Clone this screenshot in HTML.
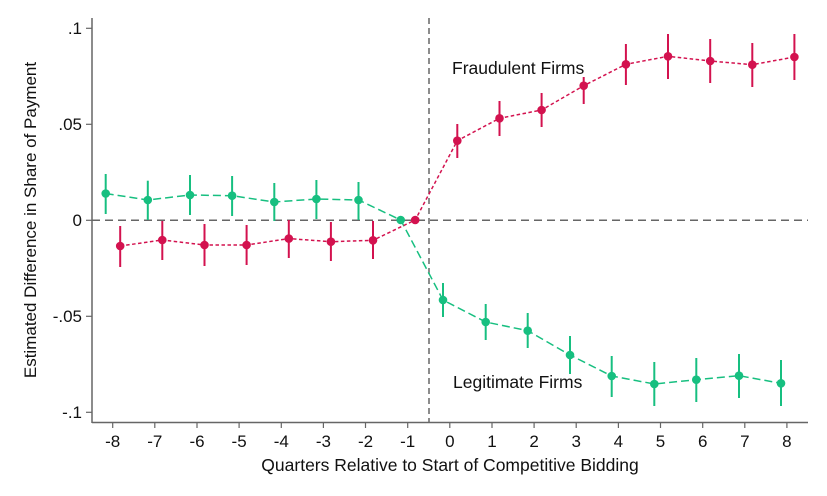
<!DOCTYPE html>
<html><head><meta charset="utf-8"><style>body{margin:0;background:#fff}svg{display:block}text{font-family:"Liberation Sans",sans-serif;fill:#111}</style></head><body>
<svg width="827" height="496" viewBox="0 0 827 496">
<rect width="827" height="496" fill="#fff"/>
<g stroke="#666" stroke-width="1.5">
<line x1="92" y1="18" x2="92" y2="423"/>
<line x1="92" y1="422.5" x2="808" y2="422.5"/>
</g>
<g stroke="#666" stroke-width="1.2">
<line x1="86" y1="28.3" x2="92" y2="28.3"/><line x1="86" y1="124.3" x2="92" y2="124.3"/><line x1="86" y1="220.3" x2="92" y2="220.3"/><line x1="86" y1="316.3" x2="92" y2="316.3"/><line x1="86" y1="412.3" x2="92" y2="412.3"/>
<line x1="112.7" y1="422" x2="112.7" y2="428"/><line x1="154.8" y1="422" x2="154.8" y2="428"/><line x1="197" y1="422" x2="197" y2="428"/><line x1="239.1" y1="422" x2="239.1" y2="428"/><line x1="281.3" y1="422" x2="281.3" y2="428"/><line x1="323.4" y1="422" x2="323.4" y2="428"/><line x1="365.5" y1="422" x2="365.5" y2="428"/><line x1="407.7" y1="422" x2="407.7" y2="428"/><line x1="449.8" y1="422" x2="449.8" y2="428"/><line x1="492" y1="422" x2="492" y2="428"/><line x1="534.1" y1="422" x2="534.1" y2="428"/><line x1="576.2" y1="422" x2="576.2" y2="428"/><line x1="618.4" y1="422" x2="618.4" y2="428"/><line x1="660.5" y1="422" x2="660.5" y2="428"/><line x1="702.7" y1="422" x2="702.7" y2="428"/><line x1="744.8" y1="422" x2="744.8" y2="428"/><line x1="786.9" y1="422" x2="786.9" y2="428"/>
</g>
<g font-size="17" text-anchor="end">
<text x="82" y="34">.1</text><text x="82" y="130">.05</text><text x="82" y="226">0</text><text x="82" y="322">-.05</text><text x="82" y="418">-.1</text>
</g>
<g font-size="17" text-anchor="middle">
<text x="112.7" y="447">-8</text><text x="154.8" y="447">-7</text><text x="197" y="447">-6</text><text x="239.1" y="447">-5</text><text x="281.3" y="447">-4</text><text x="323.4" y="447">-3</text><text x="365.5" y="447">-2</text><text x="407.7" y="447">-1</text><text x="449.8" y="447">0</text><text x="492" y="447">1</text><text x="534.1" y="447">2</text><text x="576.2" y="447">3</text><text x="618.4" y="447">4</text><text x="660.5" y="447">5</text><text x="702.7" y="447">6</text><text x="744.8" y="447">7</text><text x="786.9" y="447">8</text>
</g>
<text x="450" y="471" font-size="17.5" text-anchor="middle">Quarters Relative to Start of Competitive Bidding</text>
<text transform="translate(36,220) rotate(-90)" font-size="17" text-anchor="middle">Estimated Difference in Share of Payment</text>
<line x1="92" y1="220.3" x2="808" y2="220.3" stroke="#666" stroke-width="1.5" stroke-dasharray="8,5"/>
<line x1="429" y1="18" x2="429" y2="422" stroke="#666" stroke-width="1.5" stroke-dasharray="6,4"/>

<g stroke="#17bf80" stroke-width="2">
<path d="M105.7 193.5L147.8 200L190 195L232.1 195.7L274.3 202L316.4 199L358.5 200L400.7 220L443 300L485.7 322L527.7 330.7L570 355L611.7 376L654.3 384L696.3 379.7L739 375.7L781 383.3" fill="none" stroke-width="1.5" stroke-dasharray="8,4"/>
<line x1="105.7" y1="174" x2="105.7" y2="214"/><line x1="147.8" y1="180.7" x2="147.8" y2="220"/><line x1="190" y1="175" x2="190" y2="215"/><line x1="232.1" y1="176" x2="232.1" y2="216"/><line x1="274.3" y1="183" x2="274.3" y2="221"/><line x1="316.4" y1="180" x2="316.4" y2="219"/><line x1="358.5" y1="182" x2="358.5" y2="220"/>
<line x1="443" y1="283" x2="443" y2="317"/><line x1="485.7" y1="304" x2="485.7" y2="340"/><line x1="527.7" y1="313" x2="527.7" y2="348"/><line x1="570" y1="336" x2="570" y2="374"/><line x1="611.7" y1="356" x2="611.7" y2="397"/><line x1="654.3" y1="362" x2="654.3" y2="406"/><line x1="696.3" y1="358" x2="696.3" y2="402"/><line x1="739" y1="354" x2="739" y2="398"/><line x1="781" y1="360" x2="781" y2="406"/>
</g>
<g fill="#17bf80">
<circle cx="105.7" cy="193.5" r="4.3"/><circle cx="147.8" cy="200" r="4.3"/><circle cx="190" cy="195" r="4.3"/><circle cx="232.1" cy="195.7" r="4.3"/><circle cx="274.3" cy="202" r="4.3"/><circle cx="316.4" cy="199" r="4.3"/><circle cx="358.5" cy="200" r="4.3"/><circle cx="400.7" cy="220" r="4.3"/><circle cx="443" cy="300" r="4.3"/><circle cx="485.7" cy="322" r="4.3"/><circle cx="527.7" cy="330.7" r="4.3"/><circle cx="570" cy="355" r="4.3"/><circle cx="611.7" cy="376" r="4.3"/><circle cx="654.3" cy="384" r="4.3"/><circle cx="696.3" cy="379.7" r="4.3"/><circle cx="739" cy="375.7" r="4.3"/><circle cx="781" cy="383.3" r="4.3"/>
</g>

<g stroke="#d3124f" stroke-width="2">
<path d="M120.2 246L162.3 240L204.5 245L246.6 245L288.8 238.6L330.9 241.7L373 240.3L415.2 220L457.3 140.7L499.5 118.3L541.6 110L583.7 85.7L625.9 64.3L668 56.3L710.2 61L752.3 64.7L794.4 57" fill="none" stroke-width="1.5" stroke-dasharray="3.5,2.5"/>
<line x1="120.2" y1="226" x2="120.2" y2="267"/><line x1="162.3" y1="221" x2="162.3" y2="260"/><line x1="204.5" y1="224" x2="204.5" y2="266"/><line x1="246.6" y1="225" x2="246.6" y2="265"/><line x1="288.8" y1="220" x2="288.8" y2="258"/><line x1="330.9" y1="222" x2="330.9" y2="261"/><line x1="373" y1="221" x2="373" y2="259"/>
<line x1="457.3" y1="124" x2="457.3" y2="158"/><line x1="499.5" y1="101" x2="499.5" y2="136"/><line x1="541.6" y1="93" x2="541.6" y2="127"/><line x1="583.7" y1="77" x2="583.7" y2="104"/><line x1="625.9" y1="44" x2="625.9" y2="85"/><line x1="668" y1="34" x2="668" y2="79"/><line x1="710.2" y1="39" x2="710.2" y2="83"/><line x1="752.3" y1="43" x2="752.3" y2="87"/><line x1="794.4" y1="34" x2="794.4" y2="80"/>
</g>
<g fill="#d3124f">
<circle cx="120.2" cy="246" r="4.3"/><circle cx="162.3" cy="240" r="4.3"/><circle cx="204.5" cy="245" r="4.3"/><circle cx="246.6" cy="245" r="4.3"/><circle cx="288.8" cy="238.6" r="4.3"/><circle cx="330.9" cy="241.7" r="4.3"/><circle cx="373" cy="240.3" r="4.3"/><circle cx="415.2" cy="220" r="4.3"/><circle cx="457.3" cy="140.7" r="4.3"/><circle cx="499.5" cy="118.3" r="4.3"/><circle cx="541.6" cy="110" r="4.3"/><circle cx="583.7" cy="85.7" r="4.3"/><circle cx="625.9" cy="64.3" r="4.3"/><circle cx="668" cy="56.3" r="4.3"/><circle cx="710.2" cy="61" r="4.3"/><circle cx="752.3" cy="64.7" r="4.3"/><circle cx="794.4" cy="57" r="4.3"/>
</g>
<text x="452" y="74" font-size="17.5">Fraudulent Firms</text>
<text x="453" y="388" font-size="17.5">Legitimate Firms</text>
</svg>
</body></html>
